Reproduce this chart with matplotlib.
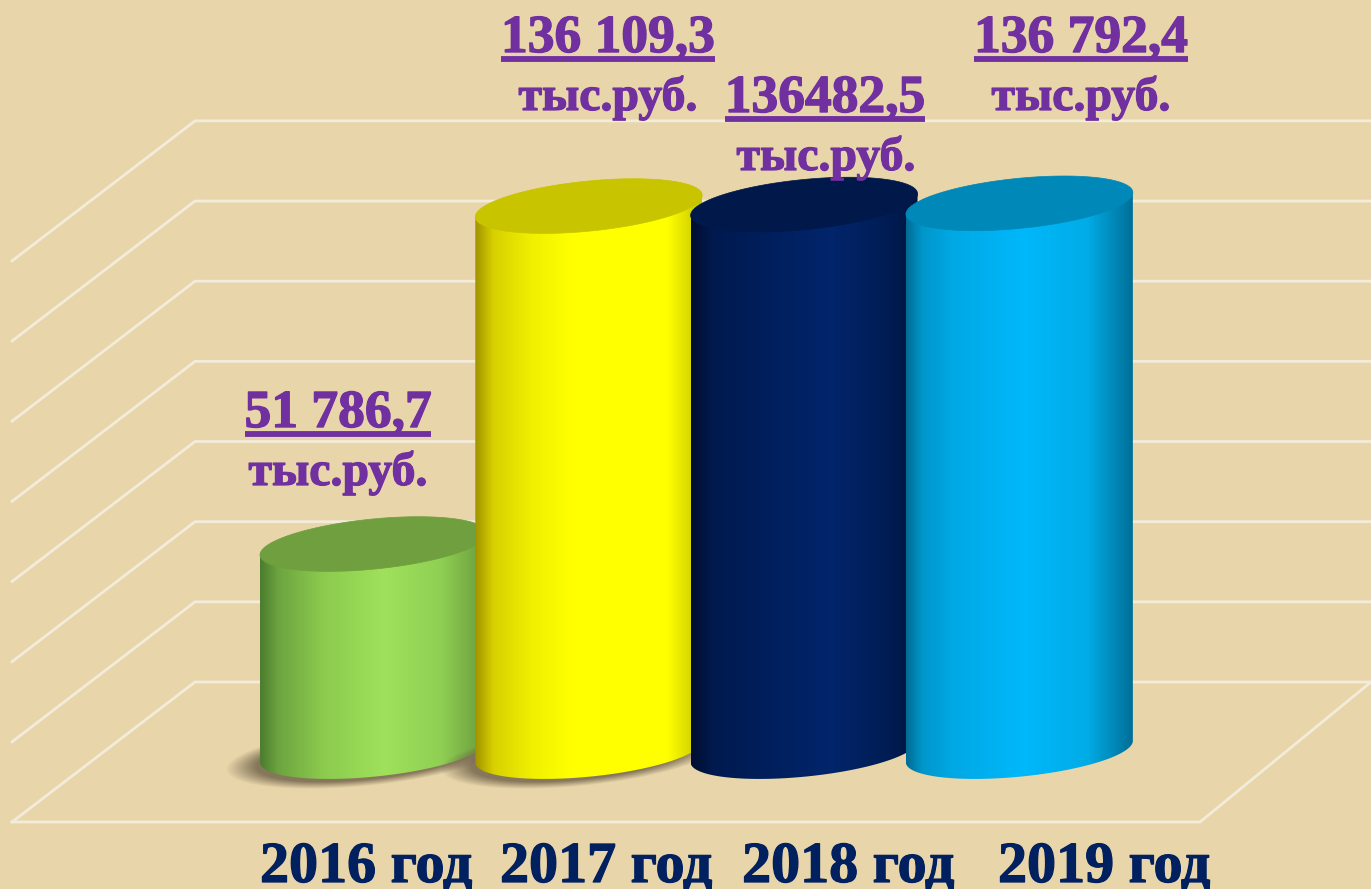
import numpy as np
import matplotlib
matplotlib.use("Agg")
import matplotlib.pyplot as plt
import matplotlib.patheffects as pe
from matplotlib.colors import LinearSegmentedColormap, to_rgb
from matplotlib.lines import Line2D
from matplotlib.patches import Polygon
from matplotlib.path import Path
from matplotlib.transforms import Affine2D

# ---------- data ----------
categories = ["2016 год", "2017 год", "2018 год", "2019 год"]
values = [51786.7, 136109.3, 136482.5, 136792.4]
value_labels = ["51 786,7", "136 109,3", "136482,5", "136 792,4"]
unit_label = "тыс.руб."
grid_values = [0, 20000, 40000, 60000, 80000, 100000, 120000, 140000]

# ---------- style ----------
BG = "#E8D6AA"
GRID = "#F3ECDB"
PURPLE = "#7030A0"
NAVY = "#002060"
body_stops = [
    [(0, "#4C7C2E"), (.08, "#6DA440"), (.28, "#8CCB4E"), (.55, "#9FE15B"), (.80, "#8FCF53"), (1, "#699A3C")],
    [(0, "#A09300"), (.08, "#D8D000"), (.25, "#F0F000"), (.42, "#FFFF00"), (.85, "#FFFF00"), (1, "#C4C400")],
    [(0, "#000E30"), (.10, "#001A50"), (.40, "#00205F"), (.62, "#02256B"), (.88, "#001C52"), (1, "#001440")],
    [(0, "#006C94"), (.07, "#0096CA"), (.20, "#00A8E4"), (.52, "#00B8FB"), (.80, "#00ACE6"), (1, "#006F98")],
]
cap_colors = ["#6F9F3F", "#C8C400", "#00184A", "#0088B8"]
has_shadow = [True, True, False, False]

W, H = 1371, 889
fig = plt.figure(figsize=(W / 100, H / 100), dpi=100, facecolor=BG)
ax = fig.add_axes([0, 0, 1, 1], facecolor=BG)
ax.set_xlim(-1.7345, 4.633)
ax.set_ylim(-34281, 187525)
ax.autoscale(False)
ax.axis("off")

# pixel coordinates measured from the top-left corner
px = Affine2D().scale(1, -1).translate(0, H)


def to_px(x, v):
    d = ax.transData.transform((x, v))
    return d[0], H - d[1]


# ---------- 3-D wall and floor grid ----------
GRID_LW = 2.0
wall_right, wall_left, front_left, front_right = 1371, 195, 12, 1200
depth_dy, wall_shift = 140, 69.6
for g in grid_values:
    y = to_px(0, g)[1] - wall_shift
    ax.add_line(Line2D([front_left, wall_left, wall_right], [y + depth_dy, y, y],
                       color=GRID, lw=GRID_LW, transform=px, zorder=1, solid_joinstyle="miter"))
y0 = to_px(0, grid_values[0])[1] - wall_shift
ax.add_line(Line2D([wall_right, front_right, front_left], [y0, y0 + depth_dy, y0 + depth_dy],
                   color=GRID, lw=GRID_LW, transform=px, zorder=1, solid_joinstyle="miter"))

# ---------- cylinders ----------
A, B, THETA = 114.0, 25.0, np.deg2rad(5.7)


def ellipse_pts(cx, cy, t):
    x = A * np.cos(t) * np.cos(THETA) + B * np.sin(t) * np.sin(THETA)
    y = -A * np.cos(t) * np.sin(THETA) + B * np.sin(t) * np.cos(THETA)
    return cx + x, cy + y


t_right = np.arctan2(B * np.sin(THETA), A * np.cos(THETA))
arc_t = np.linspace(t_right, t_right + np.pi, 120)
full_t = np.linspace(0, 2 * np.pi, 240)

for i, v in enumerate(values):
    cx, cy_base = to_px(i, 0)
    _, cy_top = to_px(i, v)
    z = 3 + i * 3
    xb, yb = ellipse_pts(cx, cy_base, arc_t)
    xt, yt = ellipse_pts(cx, cy_top, arc_t)
    left, right = xb.min(), xb.max()

    if has_shadow[i]:
        sx0, sx1, sy0, sy1 = left - 40, right + 10, cy_base - 50, cy_base + 45
        gx, gy = np.meshgrid(np.arange(sx0, sx1), np.arange(sy0, sy1))
        dx = gx - (cx - 8)
        dy = gy - (cy_base + 3.5)
        ur = dx * np.cos(THETA) - dy * np.sin(THETA)
        vr = dx * np.sin(THETA) + dy * np.cos(THETA)
        d = np.sqrt((ur / (A + 27)) ** 2 + (vr / 30) ** 2)
        rgba = np.zeros(gx.shape + (4,))
        rgba[..., :3] = to_rgb("#6E5F48")
        rgba[..., 3] = np.clip((1.0 - d) / 0.22, 0, 1) * 0.8
        ax.imshow(rgba, origin="upper", aspect="auto", zorder=z - 1,
                  extent=[sx0, sx1, sy1, sy0], transform=px, interpolation="bilinear")

    cmap = LinearSegmentedColormap.from_list(f"c{i}", body_stops[i], N=256)
    grad = np.linspace(0, 1, 256)[None, :]
    outline = np.vstack([np.column_stack([xb, yb]),
                         [[xt[-1], yt[-1]], [xt[0], yt[0]]],
                         [[xb[0], yb[0]]]])
    im = ax.imshow(grad, cmap=cmap, aspect="auto", zorder=z, transform=px,
                   extent=[left, right, cy_base + 40, cy_top - 40], interpolation="bilinear")
    im.set_clip_path(Path(outline), px)

    xc, yc = ellipse_pts(cx, cy_top, full_t)
    ax.add_patch(Polygon(np.column_stack([xc, yc]), closed=True, facecolor=cap_colors[i],
                         edgecolor=cap_colors[i], lw=0.5, transform=px, zorder=z + 1))

# ---------- text ----------
TEXT = dict(family="Liberation Serif", fontweight="bold", transform=px,
            ha="center", va="baseline", zorder=30)
VALUE_FS, UNIT_FS, CAT_FS = 38.5, 34.4, 41.8

value_pos = [(338, 427), (608, 52), (825, 112), (1081, 52)]
unit_pos = [(338, 485), (608, 110), (826, 170), (1081, 110)]
category_pos = [(366, 882), (606, 882), (848, 882), (1104, 882)]


def heavy(color, width):
    return [pe.withStroke(linewidth=width, foreground=color)]


fig.canvas.draw()
renderer = fig.canvas.get_renderer()
for label, (x, y), (ux, uy) in zip(value_labels, value_pos, unit_pos):
    t = ax.text(x, y, label, color=PURPLE, fontsize=VALUE_FS,
                path_effects=heavy(PURPLE, 1.0), **TEXT)
    ext = t.get_window_extent(renderer)
    ax.add_line(Line2D([ext.x0, ext.x1], [y + 7, y + 7], color=PURPLE, lw=4.2,
                       transform=px, zorder=30, solid_capstyle="butt"))
    ax.text(ux, uy, unit_label, color=PURPLE, fontsize=UNIT_FS,
            path_effects=heavy(PURPLE, 0.9), **TEXT)
for label, (x, y) in zip(categories, category_pos):
    ax.text(x, y, label, color=NAVY, fontsize=CAT_FS, path_effects=heavy(NAVY, 0.9), **TEXT)

fig.savefig("out.png", dpi=100, facecolor=BG)
